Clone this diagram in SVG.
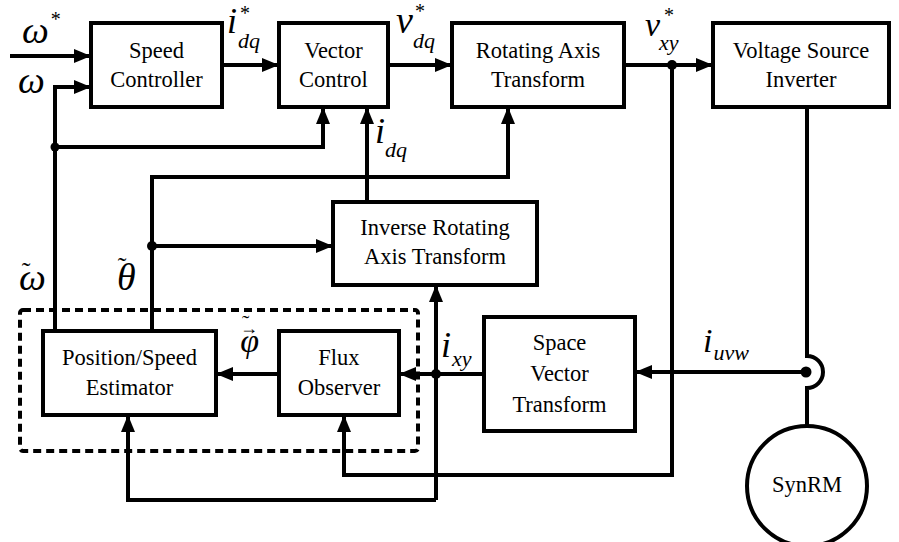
<svg xmlns="http://www.w3.org/2000/svg" width="899" height="542" viewBox="0 0 899 542">
<defs>
<marker id="ah" markerUnits="userSpaceOnUse" markerWidth="18" markerHeight="14" refX="17" refY="7" orient="auto">
<path d="M0,0 L17,7 L0,14 z" fill="#000"/>
</marker>
<style>
.box{fill:#fff;stroke:#000;stroke-width:4}
.t{font-family:'Liberation Serif','Tinos','Noto Serif','DejaVu Serif','FreeSerif','Times',serif;font-size:22.5px;fill:#000;text-anchor:middle}
.w{fill:none;stroke:#000;stroke-width:4}
.a{fill:none;stroke:#000;stroke-width:4;marker-end:url(#ah)}
.m{font-family:'Liberation Serif','Tinos','Noto Serif','DejaVu Serif','FreeSerif','Times',serif;font-style:italic;fill:#000}
.s{font-family:'Liberation Serif','Tinos','Noto Serif','DejaVu Serif','FreeSerif','Times',serif;font-style:normal}
</style>
</defs>
<rect width="899" height="542" fill="#fff"/>

<g id="connectors">
<path class="a" d="M10,56 H91"/>
<path class="a" d="M55,331 V87 H91"/>
<path class="a" d="M55,147 H323 V107"/>
<path class="a" d="M222,65 H279"/>
<path class="a" d="M388,65 H452"/>
<path class="a" d="M624,65 H713"/>
<path class="a" d="M672,65 V475 H344 V415"/>
<path class="a" d="M367,202 V107"/>
<path class="a" d="M152,331 V177 H508 V107"/>
<path class="a" d="M152,246 H333"/>
<path class="a" d="M484,374 H399"/>
<path class="a" d="M436,500 V285"/>
<path class="a" d="M436,500 H128 V415"/>
<path class="a" d="M279,374 H216"/>
<path class="a" d="M806,372 H635"/>
<path class="w" d="M807,107 V356 A16,16 0 0 1 807,388 V426"/>
<circle cx="55" cy="147" r="4.5"/>
<circle cx="672" cy="65" r="5"/>
<circle cx="152" cy="246" r="5"/>
<circle cx="436" cy="374" r="5"/>
<circle cx="806" cy="372" r="5.5"/>
</g>

<rect id="estimator-group" x="20" y="310" width="398" height="141" rx="3" fill="none" stroke="#000" stroke-width="4" stroke-dasharray="8,5"/>

<g id="speed-controller">
<rect class="box" x="91" y="23" width="131" height="84"/>
<text class="t" x="156.5" y="58">Speed</text>
<text class="t" x="156.5" y="87">Controller</text>
</g>
<g id="vector-control">
<rect class="box" x="279" y="23" width="109" height="84"/>
<text class="t" x="333.5" y="58">Vector</text>
<text class="t" x="333.5" y="87">Control</text>
</g>
<g id="rotating-axis-transform">
<rect class="box" x="452" y="23" width="172" height="84"/>
<text class="t" x="538" y="58">Rotating Axis</text>
<text class="t" x="538" y="87">Transform</text>
</g>
<g id="voltage-source-inverter">
<rect class="box" x="713" y="23" width="176" height="84"/>
<text class="t" x="801" y="58">Voltage Source</text>
<text class="t" x="801" y="87">Inverter</text>
</g>
<g id="inverse-rotating-axis-transform">
<rect class="box" x="333" y="202" width="204" height="83"/>
<text class="t" x="435" y="235">Inverse Rotating</text>
<text class="t" x="435" y="264">Axis Transform</text>
</g>
<g id="position-speed-estimator">
<rect class="box" x="43" y="331" width="173" height="84"/>
<text class="t" x="129.5" y="365">Position/Speed</text>
<text class="t" x="129.5" y="395">Estimator</text>
</g>
<g id="flux-observer">
<rect class="box" x="279" y="331" width="120" height="84"/>
<text class="t" x="339" y="365">Flux</text>
<text class="t" x="339" y="395">Observer</text>
</g>
<g id="space-vector-transform">
<rect class="box" x="484" y="317" width="151" height="114"/>
<text class="t" x="559.5" y="350">Space</text>
<text class="t" x="559.5" y="381">Vector</text>
<text class="t" x="559.5" y="412">Transform</text>
</g>
<g id="synrm">
<circle cx="807" cy="486" r="60" fill="#fff" stroke="#000" stroke-width="4"/>
<text class="t" x="807" y="492">SynRM</text>
</g>

<g id="labels">
<text class="m" x="22" y="43" font-size="38">ω<tspan class="s" dx="2" dy="-17" font-size="20">*</tspan></text>
<text class="m" x="18" y="93" font-size="38">ω</text>

<text class="m" x="227" y="33" font-size="36">i<tspan class="s" dx="3" dy="-13" font-size="20">*</tspan><tspan dx="-12" dy="28" font-size="22">dq</tspan></text>

<text class="m" x="396" y="33" font-size="38">v<tspan class="s" dx="2" dy="-15" font-size="20">*</tspan><tspan dx="-12" dy="30" font-size="22">dq</tspan></text>

<text class="m" x="645" y="36" font-size="34">v<tspan class="s" dx="4" dy="-14" font-size="20">*</tspan><tspan dx="-15" dy="28" font-size="22">xy</tspan></text>

<text class="m" x="375" y="143" font-size="36">i<tspan dx="0" dy="14" font-size="22">dq</tspan></text>

<text class="m" x="19" y="290" font-size="38">ω<tspan class="s" dx="-24" dy="-10" font-size="26">˜</tspan></text>
<text class="m" x="117" y="290" font-size="38">θ<tspan class="s" dx="-18" dy="-15" font-size="26">˜</tspan></text>

<text class="m" x="240" y="352" font-size="34">φ<tspan class="s" dx="-19" dy="-18" font-size="18">→</tspan><tspan class="s" dx="-16" dy="-4" font-size="22">˜</tspan></text>

<text class="m" x="441" y="357" font-size="36">i<tspan dx="1" dy="9" font-size="22">xy</tspan></text>

<text class="m" x="703" y="352" font-size="34">i<tspan dx="1" dy="8" font-size="22">uvw</tspan></text>
</g>
</svg>
